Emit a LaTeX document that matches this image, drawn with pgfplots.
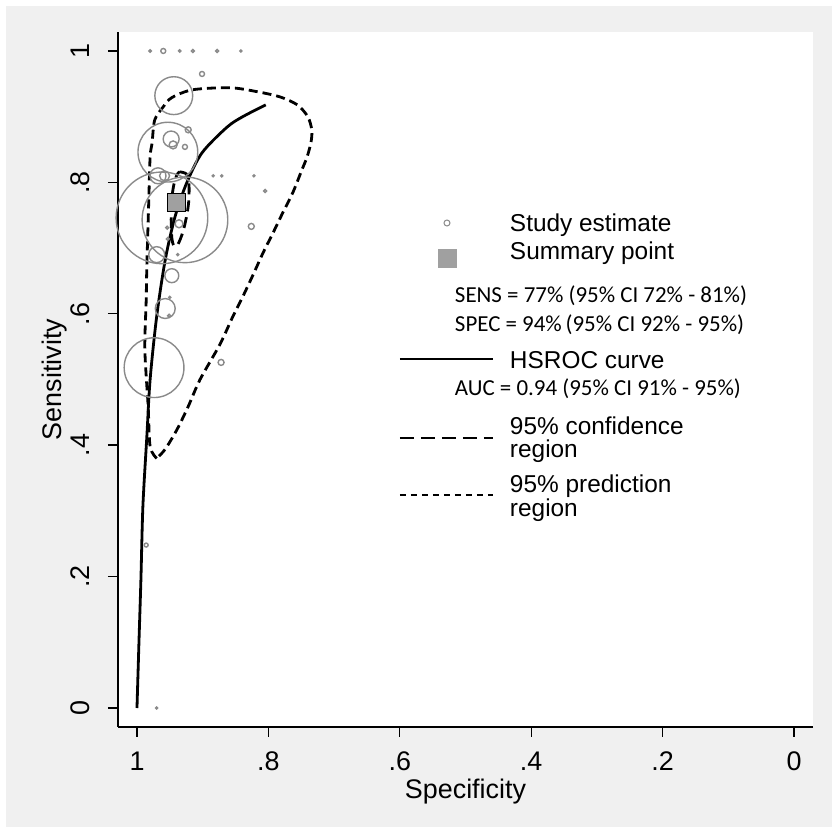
\documentclass[border=0pt]{standalone}
\usepackage{pgfplots}
\pgfplotsset{compat=1.18}
\usepackage{fontspec}
\setmainfont{Liberation Sans}
\newfontfamily\calibri{Carlito}
\definecolor{bggray}{RGB}{240,240,240}
\definecolor{circgray}{RGB}{138,138,138}
\definecolor{sumgray}{RGB}{160,160,160}

\pgfplotstableread{
x y r
0.980 1.000 1.2
0.960 1.000 2.5
0.935 1.000 1.2
0.915 1.000 1.5
0.878 1.000 1.5
0.842 1.000 1.0
0.901 0.965 2.5
0.944 0.932 19
0.953 0.846 30
0.948 0.866 8
0.945 0.857 4
0.922 0.880 3
0.927 0.854 2.5
0.968 0.810 8
0.958 0.810 5
0.884 0.810 1.0
0.871 0.810 1.0
0.822 0.810 1.0
0.805 0.787 1.5
0.962 0.746 46
0.927 0.743 43
0.936 0.737 4
0.954 0.731 1.5
0.826 0.733 3
0.953 0.714 1.5
0.970 0.690 8
0.938 0.690 1.0
0.947 0.658 7
0.950 0.625 1.0
0.957 0.608 10
0.951 0.597 1.5
0.974 0.518 30
0.872 0.526 3
0.986 0.248 2
0.970 0.000 1.0
}\studies

\pgfplotstableread{
x y
1.000 0.000
0.997 0.100
0.994 0.196
0.991 0.307
0.985 0.413
0.980 0.500
0.970 0.596
0.957 0.682
0.942 0.748
0.924 0.800
0.901 0.845
0.863 0.884
0.839 0.900
0.804 0.918
}\hsroc

\pgfplotstableread{
x y
0.970 0.380
0.980 0.398
0.983 0.459
0.988 0.546
0.986 0.620
0.985 0.672
0.982 0.774
0.980 0.839
0.977 0.860
0.973 0.895
0.960 0.915
0.947 0.929
0.915 0.941
0.858 0.944
0.817 0.938
0.782 0.930
0.756 0.918
0.740 0.900
0.734 0.880
0.735 0.862
0.741 0.839
0.749 0.819
0.763 0.784
0.778 0.754
0.793 0.723
0.808 0.693
0.823 0.660
0.839 0.626
0.854 0.596
0.874 0.553
0.904 0.500
0.922 0.459
0.939 0.424
0.957 0.394
0.970 0.380
}\predreg

\pgfplotstableread{
x y
0.935 0.816
0.925 0.813
0.921 0.801
0.921 0.774
0.924 0.751
0.930 0.725
0.938 0.705
0.944 0.704
0.947 0.716
0.948 0.743
0.947 0.774
0.944 0.796
0.939 0.812
0.935 0.816
}\confreg

\begin{document}
\begin{tikzpicture}[x=1bp,y=1bp]
\fill[white] (0,0) rectangle (832,829);
\fill[bggray] (6,2) rectangle (832,823);
\begin{axis}[
  at={(118bp,102bp)}, anchor=south west,
  scale only axis, width=695bp, height=695bp,
  x dir=reverse,
  xmin=-0.0289, xmax=1.0289, ymin=-0.0289, ymax=1.0289,
  axis x line*=bottom, axis y line*=left,
  axis line style={line width=1.4bp, -},
  axis background/.style={fill=white},
  xtick={0,0.2,0.4,0.6,0.8,1}, xticklabels={0,.2,.4,.6,.8,1},
  ytick={0,0.2,0.4,0.6,0.8,1}, yticklabels={0,.2,.4,.6,.8,1},
  tick align=outside, major tick length=10bp,
  tick style={line width=1.4bp, black},
  minor tick num=0,
  tick label style={font=\fontsize{27}{27}\selectfont, inner sep=0pt},
  xticklabel style={anchor=base},
  yticklabel style={rotate=90, anchor=base},
  xticklabel shift=34bp, yticklabel shift=18bp,
  label style={font=\fontsize{27}{27}\selectfont, inner sep=0pt},
  xlabel={Specificity}, ylabel={Sensitivity},
  xlabel style={at={(axis description cs:0.5,0)}, anchor=base, yshift=-71bp},
  ylabel style={at={(axis description cs:-0.082,0.5)}, anchor=base},
  legend cell align=left,
  legend style={at={(axis description cs:0.4043,0.7410)}, anchor=north west,
    draw=none, fill=none, inner sep=0pt, outer sep=0pt, row sep=0pt,
    column sep=16bp, nodes={inner sep=0pt, outer sep=0pt},
    cells={anchor=base west},
    font=\fontsize{24.5}{24.5}\selectfont},
]
\addlegendimage{legend image code/.code={\draw[circgray, line width=1bp] (47bp,9bp) circle (3bp);}}
\addlegendentry[text height=20bp, text depth=7bp]{Study estimate}
\addlegendimage{legend image code/.code={\fill[sumgray] (38bp,-7bp) rectangle (56bp,11bp);}}
\addlegendentry[text height=21bp, text depth=8bp]{Summary point}
\addlegendimage{empty legend}
\addlegendentry[text height=35bp, text depth=7bp]{\hspace*{-55bp}{\calibri\fontsize{23}{23}\selectfont SENS = 77\% (95\% CI 72\% - 81\%)}}
\addlegendimage{empty legend}
\addlegendentry[text height=22bp, text depth=7bp]{\hspace*{-55bp}{\calibri\fontsize{23}{23}\selectfont SPEC = 94\%\,(95\% CI 92\% - 95\%)}}
\addlegendimage{legend image code/.code={\draw[black, line width=2bp] (0bp,10bp) -- (93bp,10bp);}}
\addlegendentry[text height=30bp, text depth=7bp]{HSROC curve}
\addlegendimage{empty legend}
\addlegendentry[text height=20bp, text depth=7bp]{\hspace*{-55bp}{\calibri\fontsize{23}{23}\selectfont AUC = 0.94 (95\% CI 91\% - 95\%)}}
\addlegendimage{legend image code/.code={\draw[black, line width=2bp, dash pattern=on 14bp off 7bp] (0bp,-3bp) -- (93bp,-3bp);}}
\addlegendentry[text height=32bp, text depth=30bp]{\vtop{\baselineskip=23bp \hbox{95\% confidence}\hbox{region}}}
\addlegendimage{legend image code/.code={\draw[black, line width=2bp, dash pattern=on 6.5bp off 4.5bp] (0bp,-2bp) -- (93bp,-2bp);}}
\addlegendentry[text height=28bp, text depth=30bp]{\vtop{\baselineskip=23bp \hbox{95\% prediction}\hbox{region}}}

\addplot[forget plot, scatter, only marks, mark=o,
  scatter/use mapped color={draw=circgray},
  line width=1.4bp,
  visualization depends on={\thisrow{r} \as \rad},
  scatter/@pre marker code/.append style={/tikz/mark size=\rad}]
  table[x=x, y=y, meta=r] {\studies};

\addplot[forget plot, only marks, mark=square*, mark size=9bp, draw=none, fill=sumgray, mark options={draw=none, fill=sumgray}]
  coordinates {(0.94,0.77)};

\addplot[forget plot, black, line width=2.8bp, smooth, tension=0.5] table[x=x,y=y] {\hsroc};
\addplot[forget plot, black, line width=2.8bp, smooth, tension=0.5, dash pattern=on 11bp off 6bp] table[x=x,y=y] {\confreg};
\addplot[forget plot, black, line width=2.8bp, smooth, tension=0.5, dash pattern=on 9bp off 5bp] table[x=x,y=y] {\predreg};
\end{axis}
\end{tikzpicture}
\end{document}
